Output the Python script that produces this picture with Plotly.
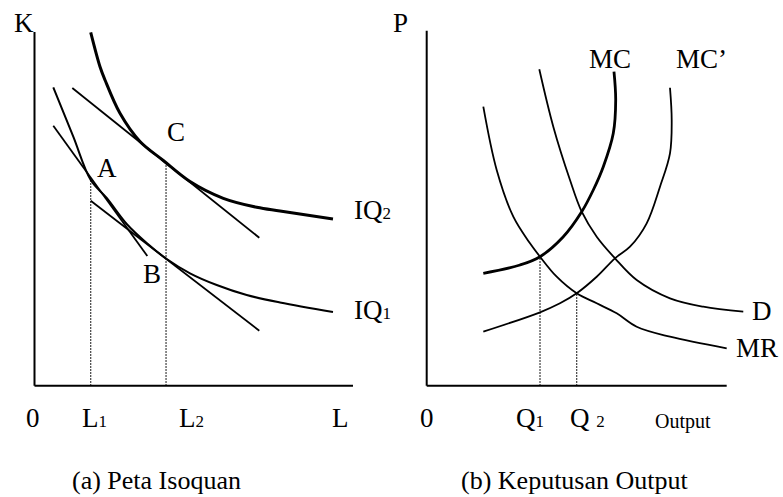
import plotly.graph_objects as go

W, H = 783, 497
FONT = "Liberation Serif, Times New Roman, serif"

# ---------------- (a) Peta Isoquan : labour L on x, capital K on y ----------------
iq2_L = [1.765, 2.057, 2.214, 2.684, 3.312, 4.044, 4.882, 5.928, 6.977, 7.708, 9.372]
iq2_K = [9.990, 9.018, 8.643, 7.701, 6.904, 6.367, 5.773, 5.298, 5.044, 4.939, 4.713]

iq1_L = [0.590, 1.218, 1.765, 2.267, 2.895, 3.523, 4.151, 4.882, 5.721, 6.662, 7.708, 9.372]
iq1_K = [8.437, 7.040, 5.816, 5.307, 4.572, 4.034, 3.582, 3.178, 2.847, 2.564, 2.352, 2.084]

# isocost lines
line_A_L = [0.590, 3.542]
line_A_K = [7.351, 3.667]
line_B_L = [1.765, 7.058]
line_B_K = [5.230, 1.555]
line_C_L = [1.187, 7.058]
line_C_K = [8.417, 4.184]

# chosen input bundles
point_L = [1.765, 4.130]          # L1, L2
point_K = [5.816, 6.300]          # A on IQ1, C on IQ2

# ---------------- (b) Keputusan Output : output Q on x, price P on y ----------------
d_Q = [3.753, 4.220, 4.777, 5.167, 5.667, 6.277, 7.000, 8.110, 9.220, 10.553]
d_P = [8.913, 7.296, 5.794, 4.901, 4.197, 3.589, 2.977, 2.462, 2.225, 2.085]

mr_Q = [1.887, 2.333, 2.887, 3.443, 3.777, 4.333, 5.000, 5.667, 6.333, 7.000, 8.110, 10.000]
mr_P = [7.859, 6.076, 4.761, 4.011, 3.634, 3.070, 2.603, 2.321, 2.039, 1.662, 1.380, 1.054]

mc_Q = [6.243, 6.300, 6.220, 5.887, 5.553, 5.167, 4.553, 3.777, 3.110, 1.887]
mc_P = [8.845, 8.048, 7.110, 6.169, 5.513, 4.901, 4.197, 3.634, 3.400, 3.166]

mc2_Q = [8.110, 8.167, 8.110, 7.777, 7.333, 6.777, 6.277, 5.667, 5.000, 4.443, 3.777, 1.887]
mc2_P = [8.394, 7.485, 6.546, 5.606, 4.575, 3.915, 3.589, 3.070, 2.603, 2.321, 2.068, 1.521]

# profit-maximising outputs (MC = MR, MC' = MR)
opt_Q = [3.777, 5.000]
opt_P = [3.634, 2.603]

fig = go.Figure()


def curve(x, y, width, xa="x", ya="y", shape="spline", dash="solid"):
    fig.add_trace(go.Scatter(
        x=x, y=y, mode="lines", xaxis=xa, yaxis=ya,
        line=dict(color="black", width=width, shape=shape, smoothing=1.0, dash=dash),
        hoverinfo="skip", showlegend=False))


# panel (a)
curve(iq2_L, iq2_K, 3.0)
curve(iq1_L, iq1_K, 2.0)
curve(line_A_L, line_A_K, 1.8, shape="linear")
curve(line_B_L, line_B_K, 1.8, shape="linear")
curve(line_C_L, line_C_K, 1.8, shape="linear")
for lx, ky in zip(point_L, point_K):
    curve([lx, lx], [0, ky], 1.2, shape="linear", dash="1.5px,1.5px")

# panel (b)
curve(d_Q, d_P, 1.8, "x2", "y2")
curve(mr_Q, mr_P, 1.8, "x2", "y2")
curve(mc_Q, mc_P, 2.8, "x2", "y2")
curve(mc2_Q, mc2_P, 1.8, "x2", "y2")
for qx, py in zip(opt_Q, opt_P):
    curve([qx, qx], [0, py], 1.2, "x2", "y2", shape="linear", dash="1.5px,1.5px")

# axis lines drawn as L-shaped frames
shapes = []
for xr, yr in (("x", "y"), ("x2", "y2")):
    shapes.append(dict(type="line", xref=xr, yref=yr, x0=0, y0=0, x1=10, y1=0,
                       line=dict(color="black", width=2)))
    shapes.append(dict(type="line", xref=xr, yref=yr, x0=0, y0=0, x1=0, y1=10,
                       line=dict(color="black", width=2)))

SUB = "<span style='font-size:17px'>{}</span>"


def label(text, x, y, xr="x", yr="y", size=27, yanchor="middle"):
    return dict(text=text, x=x, y=y, xref=xr, yref=yr, showarrow=False,
                xanchor="center", yanchor=yanchor,
                font=dict(family=FONT, size=size, color="black"))


annotations = [
    # panel (a)
    label("K", -0.33, 10.25),
    label("0", -0.05, -0.91),
    label("L" + SUB.format("1"), 1.884, -0.91),
    label("L" + SUB.format("2"), 4.914, -0.91),
    label("L", 9.623, -0.91),
    label("IQ" + SUB.format("2"), 10.60, 4.97),
    label("IQ" + SUB.format("1"), 10.62, 2.14),
    label("A", 2.267, 6.146),
    label("B", 3.680, 3.150),
    label("C", 4.443, 7.181),
    label("(a) Peta Isoquan", 3.815, 0, "x", "paper", size=26, yanchor="bottom"),
    # panel (b)
    label("P", -0.89, 10.217, "x2", "y2"),
    label("0", 0.01, -0.907, "x2", "y2"),
    label("Q" + SUB.format("1"), 3.43, -0.907, "x2", "y2"),
    label("Q " + SUB.format("2"), 5.36, -0.907, "x2", "y2"),
    label("Output", 8.56, -1.02, "x2", "y2", size=20),
    label("MC", 6.11, 9.203, "x2", "y2"),
    label("MC\u2019", 9.16, 9.203, "x2", "y2"),
    label("D", 11.18, 2.104, "x2", "y2"),
    label("MR", 11.01, 1.062, "x2", "y2"),
    label("(b) Keputusan Output", 4.93, 0, "x2", "paper", size=26, yanchor="bottom"),
]

split = 390 / W
hidden = dict(visible=False, showgrid=False, zeroline=False, fixedrange=True)
fig.update_layout(
    width=W, height=H,
    margin=dict(l=0, r=0, t=0, b=0, pad=0),
    paper_bgcolor="white", plot_bgcolor="white",
    xaxis=dict(domain=[0, split], range=[-1.0832, 11.162], anchor="y", **hidden),
    yaxis=dict(domain=[0, 1], range=[-3.147, 10.905], anchor="x", **hidden),
    xaxis2=dict(domain=[split, 1], range=[-1.2233, 11.877], anchor="y2", **hidden),
    yaxis2=dict(domain=[0, 1], range=[-3.135, 10.865], anchor="x2", **hidden),
    shapes=shapes,
    annotations=annotations,
    showlegend=False,
)

fig.write_html("out.html", config={"displayModeBar": False})
